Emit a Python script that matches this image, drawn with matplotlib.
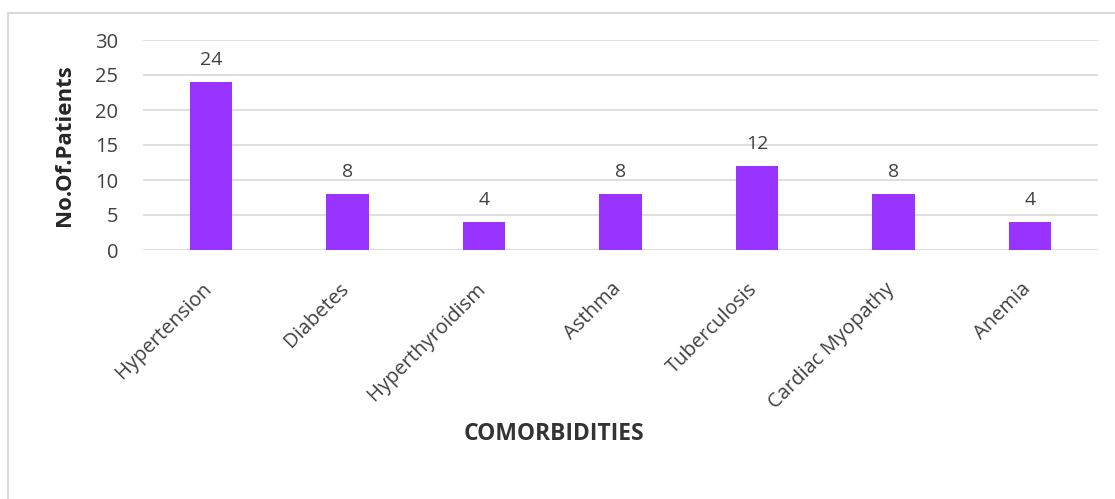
import matplotlib
matplotlib.use("Agg")
import matplotlib.pyplot as plt
import matplotlib.transforms as mtrans
from matplotlib.patches import Rectangle

categories = ["Hypertension", "Diabetes", "Hyperthyroidism", "Asthma",
              "Tuberculosis", "Cardiac Myopathy", "Anemia"]
patients = [24, 8, 4, 8, 12, 8, 4]
yticks = [0, 5, 10, 15, 20, 25, 30]

W, H = 1115, 499
fig = plt.figure(figsize=(W / 100, H / 100), dpi=100)
fig.patch.set_facecolor("white")

# outer chart border
fig.add_artist(Rectangle((8 / W, -0.1), 1.2, 1 - 13 / H + 0.1, transform=fig.transFigure,
                         fill=False, edgecolor="#D9D9D9", linewidth=1.5))

ax = fig.add_axes([143 / W, 1 - 250 / H, (1098 - 143) / W, (250 - 40) / H])
x = list(range(len(categories)))
bars = ax.bar(x, patients, width=0.31, color="#9933FF", zorder=3)
ax.set_xlim(-0.5, len(categories) - 0.5)
ax.set_ylim(0, 30)
ax.set_yticks(yticks)
ax.yaxis.grid(True, color="#D9D9D9", linewidth=1.2, zorder=0)
for s in ax.spines.values():
    s.set_visible(False)
ax.tick_params(axis="both", length=0, colors="#404040")
ax.tick_params(axis="y", pad=18, labelsize=14.5)
ax.set_xticks(x)
ax.set_xticklabels(categories, rotation=45, ha="right", va="center",
                   rotation_mode="anchor", fontsize=14.5, color="#404040")
ax.tick_params(axis="x", pad=26)
shift = mtrans.ScaledTranslation(-2 / 100, 0, fig.dpi_scale_trans)
for lab in ax.get_yticklabels():
    lab.set_fontfamily("Open Sans")
for lab in ax.get_xticklabels():
    lab.set_fontfamily("Open Sans")
    lab.set_transform(lab.get_transform() + shift)

for xi, v in zip(x, patients):
    ax.annotate(str(v), (xi, v), xytext=(0, 12.5), textcoords="offset points",
                ha="center", va="baseline", fontsize=14, color="#404040",
                family="Open Sans")

fig.text(65 / W, 1 - 145 / H, "No.Of.Patients", rotation=90, ha="center", va="center",
         fontsize=16, fontweight="bold", color="#262626", family="Open Sans")
fig.text(553.5 / W, 1 - 433.5 / H, "COMORBIDITIES", ha="center", va="center",
         fontsize=16.5, fontweight="bold", color="#333333", family="Open Sans")

fig.savefig("out.png", dpi=100, facecolor="white")
